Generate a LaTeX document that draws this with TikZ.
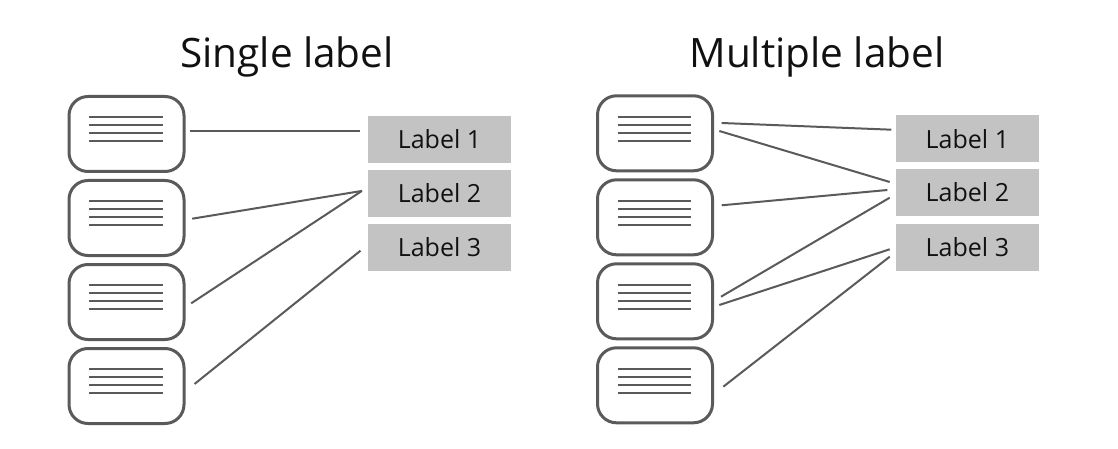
\documentclass[tikz,border=0pt]{standalone}
\usepackage{fontspec}
\setmainfont{Open Sans}
\usetikzlibrary{calc}
\definecolor{edge}{HTML}{5A5A5A}
\definecolor{lab}{HTML}{C3C3C3}
\definecolor{ink}{HTML}{111111}
\tikzset{
  card/.style={draw=edge, line width=3pt, rounded corners=19pt, minimum width=115pt, minimum height=75pt, inner sep=0pt},
  labelbox/.style={fill=lab, minimum width=143pt, minimum height=47pt, inner sep=0pt, text=ink, font=\fontsize{25}{30}\selectfont},
  title/.style={text=ink, font=\fontsize{40.5}{48}\selectfont, anchor=base, inner sep=0pt},
  conn/.style={draw=edge, line width=2pt},
  txtline/.style={draw=edge, line width=2pt},
}
\newcommand{\cardlines}[1]{%
  \foreach \dy in {-16.7,-8.7,-0.7,7.3}{\draw[txtline] ($(#1)+(-37.5,\dy)$) -- ($(#1)+(36.3,\dy)$);}}
\begin{document}
\begin{tikzpicture}[x=1pt,y=-1pt]
\useasboundingbox (0,0) rectangle (1118,449);
% titles
\node[title] (t1) at (287,68) {Single label};
\node[title] (t2) at (817,68) {Multiple label};
% left panel
\node[card] (a1) at (126.5,134) {};
\node[card] (a2) at (126.5,218) {};
\node[card] (a3) at (126.5,302) {};
\node[card] (a4) at (126.5,386) {};
\cardlines{a1}\cardlines{a2}\cardlines{a3}\cardlines{a4}
\node[labelbox] (p1) at (439.5,139.5) {Label 1};
\node[labelbox] (p2) at (439.5,193.5) {Label 2};
\node[labelbox] (p3) at (439.5,247.5) {Label 3};
\draw[conn] ($(a1.east)+(4.7,-3.3)$) -- ($(p1.west)+(-8,-8.8)$);
\draw[conn] ($(a2.east)+(6.7,0.7)$) -- ($(p2.west)+(-5.7,-2.6)$);
\draw[conn] ($(a3.east)+(5.7,1.3)$) -- ($(p2.west)+(-6,-2.5)$);
\draw[conn] ($(a4.east)+(9,-2)$) -- ($(p3.west)+(-7.3,3.2)$);
% right panel
\node[card] (b1) at (655,133.3) {};
\node[card] (b2) at (655,217.3) {};
\node[card] (b3) at (655,301.3) {};
\node[card] (b4) at (655,385.3) {};
\cardlines{b1}\cardlines{b2}\cardlines{b3}\cardlines{b4}
\node[labelbox] (q1) at (967.4,138.8) {Label 1};
\node[labelbox] (q2) at (967.4,192.5) {Label 2};
\node[labelbox] (q3) at (967.4,247) {Label 3};
\draw[conn] ($(b1.east)+(7.7,-10.3)$) -- ($(q1.west)+(-4.3,-9.1)$);
\draw[conn] ($(b1.east)+(5.3,-2.3)$) -- ($(q2.west)+(-6,-10.5)$);
\draw[conn] ($(b2.east)+(7.7,-12)$) -- ($(q2.west)+(-8.3,-2.5)$);
\draw[conn] ($(b3.east)+(7,-4.6)$) -- ($(q2.west)+(-6,5.2)$);
\draw[conn] ($(b3.east)+(5.3,3.7)$) -- ($(q3.west)+(-6,2.3)$);
\draw[conn] ($(b4.east)+(9.3,1.4)$) -- ($(q3.west)+(-6,9.7)$);
\end{tikzpicture}
\end{document}
